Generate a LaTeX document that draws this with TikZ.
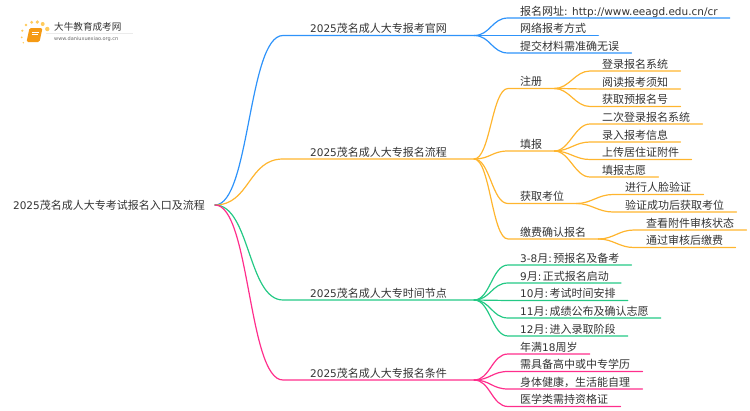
\documentclass[tikz,border=0pt]{standalone}
\usepackage{fontspec}
\setmainfont{DejaVu Sans}
\newfontfamily\cjk{Noto Sans CJK SC}
\newcommand{\lat}[1]{{\rmfamily\fontsize{10.5pt}{13pt}\selectfont #1}}
\usepackage{tikz}
\definecolor{branchblue}{HTML}{2E93FA}
\definecolor{branchorange}{HTML}{FFB52E}
\definecolor{branchgreen}{HTML}{24C985}
\definecolor{branchpink}{HTML}{FF2E8C}
\definecolor{bookorange}{HTML}{F59A14}
\definecolor{dotyellow}{HTML}{FFCB5C}
\tikzset{rootnode/.style={
        anchor=east,
        inner xsep=10pt,
        inner ysep=2pt,
        text height=10pt,
        text depth=1.5pt
}}
\tikzset{topic/.style={
        anchor=south west,
        inner xsep=27pt,
        inner ysep=0.4pt
}}
\tikzset{leaf/.style={
        anchor=south west,
        inner xsep=12pt,
        inner ysep=0.4pt
}}
\tikzset{mapedge/.style={draw,line width=1.2pt,line cap=round}}

\begin{document}
\begin{tikzpicture}[x=1pt,y=-1pt,every node/.style={font=\cjk\fontsize{11pt}{13pt}\selectfont,text=black!80,text height=9.5pt,text depth=2pt}]
\useasboundingbox (0,0) rectangle (750,410);

% logo
\foreach \px/\py/\pr in {26/25/1.4,31.7/22.3/1.6,37.3/22/1.8,42.7/24/2,47.3/29/2.2,22.3/30.7/1.2,21.7/37.3/1,23.3/42.7/0.8}
    \fill[dotyellow] (\px,\py) circle (\pr);
\fill[bookorange,rounded corners=1.5pt] (29.5,28) -- (42.5,28) -- (39.5,42) -- (26.5,42) -- cycle;
\draw[white,line width=0.5pt] (32,32) -- (38.5,32) (31.5,34.5) -- (38,34.5);
\draw[black!8,line width=0.5pt] (46,33) -- (133,33);
\node[anchor=west,inner sep=0pt,text height=8pt,text depth=1.5pt,font=\cjk\fontsize{9.6pt}{11pt}\selectfont] (logotitle) at (54,27) {大牛教育成考网};
\node[anchor=west,inner sep=0pt,text height=4pt,text depth=1pt,text=black!60,font=\fontsize{5pt}{6pt}\selectfont] (logourl) at (54,38.5) {www.daniuxuexiao.org.cn};

\node[rootnode] (root) at (215,205) {\lat{2025}茂名成人大专考试报名入口及流程};

\node[topic] (site) at (283,35.5) {\lat{2025}茂名成人大专报考官网};
\node[topic] (flow) at (283,159) {\lat{2025}茂名成人大专报名流程};
\node[topic] (dates) at (283,300) {\lat{2025}茂名成人大专时间节点};
\node[topic] (cond) at (283,380) {\lat{2025}茂名成人大专报名条件};

\node[leaf] (site1) at (508,18) {报名网址\lat{: http://www.eeagd.edu.cn/cr}};
\node[leaf] (site2) at (508,35.5) {网络报考方式};
\node[leaf] (site3) at (508,53) {提交材料需准确无误};

\node[leaf] (reg) at (508,88.5) {注册};
\node[leaf] (fill) at (508,151) {填报};
\node[leaf] (seat) at (508,203.5) {获取考位};
\node[leaf] (pay) at (508,239) {缴费确认报名};

\node[leaf] (reg1) at (590,71) {登录报名系统};
\node[leaf] (reg2) at (590,89) {阅读报考须知};
\node[leaf] (reg3) at (590,106.5) {获取预报名号};

\node[leaf] (fill1) at (590,124) {二次登录报名系统};
\node[leaf] (fill2) at (590,142) {录入报考信息};
\node[leaf] (fill3) at (590,159.5) {上传居住证附件};
\node[leaf] (fill4) at (590,177) {填报志愿};

\node[leaf] (seat1) at (613,194.5) {进行人脸验证};
\node[leaf] (seat2) at (613,212) {验证成功后获取考位};

\node[leaf] (pay1) at (634,230) {查看附件审核状态};
\node[leaf] (pay2) at (634,247.5) {通过审核后缴费};

\node[leaf] (dates1) at (508,265) {\lat{3-8}月\lat{:}\hspace{1.5pt}预报名及备考};
\node[leaf] (dates2) at (508,283) {\lat{9}月\lat{:}\hspace{1.5pt}正式报名启动};
\node[leaf] (dates3) at (508,300.5) {\lat{10}月\lat{:}\hspace{1.5pt}考试时间安排};
\node[leaf] (dates4) at (508,318) {\lat{11}月\lat{:}\hspace{1.5pt}成绩公布及确认志愿};
\node[leaf] (dates5) at (508,336) {\lat{12}月\lat{:}\hspace{1.5pt}进入录取阶段};

\node[leaf] (cond1) at (508,354) {年满\lat{18}周岁};
\node[leaf] (cond2) at (508,371.5) {需具备高中或中专学历};
\node[leaf] (cond3) at (508,389) {身体健康，生活能自理};
\node[leaf] (cond4) at (508,406.5) {医学类需持资格证};

\foreach \from/\to/\bend in {root.east/site/35,site.south east/site1/16,site.south east/site2/16,site.south east/site3/16}
    \draw[mapedge,branchblue] (\from) .. controls +(\bend,0) and +(-\bend,0) .. (\to.south west) -- (\to.south east);
\foreach \from/\to/\bend in {root.east/flow/35,flow.south east/reg/16,flow.south east/fill/16,flow.south east/seat/16,flow.south east/pay/16,reg.south east/reg1/15,reg.south east/reg2/15,reg.south east/reg3/15,fill.south east/fill1/15,fill.south east/fill2/15,fill.south east/fill3/15,fill.south east/fill4/15,seat.south east/seat1/15,seat.south east/seat2/15,pay.south east/pay1/15,pay.south east/pay2/15}
    \draw[mapedge,branchorange] (\from) .. controls +(\bend,0) and +(-\bend,0) .. (\to.south west) -- (\to.south east);
\foreach \from/\to/\bend in {root.east/dates/35,dates.south east/dates1/16,dates.south east/dates2/16,dates.south east/dates3/16,dates.south east/dates4/16,dates.south east/dates5/16}
    \draw[mapedge,branchgreen] (\from) .. controls +(\bend,0) and +(-\bend,0) .. (\to.south west) -- (\to.south east);
\foreach \from/\to/\bend in {root.east/cond/35,cond.south east/cond1/16,cond.south east/cond2/16,cond.south east/cond3/16,cond.south east/cond4/16}
    \draw[mapedge,branchpink] (\from) .. controls +(\bend,0) and +(-\bend,0) .. (\to.south west) -- (\to.south east);
\end{tikzpicture}
\end{document}
